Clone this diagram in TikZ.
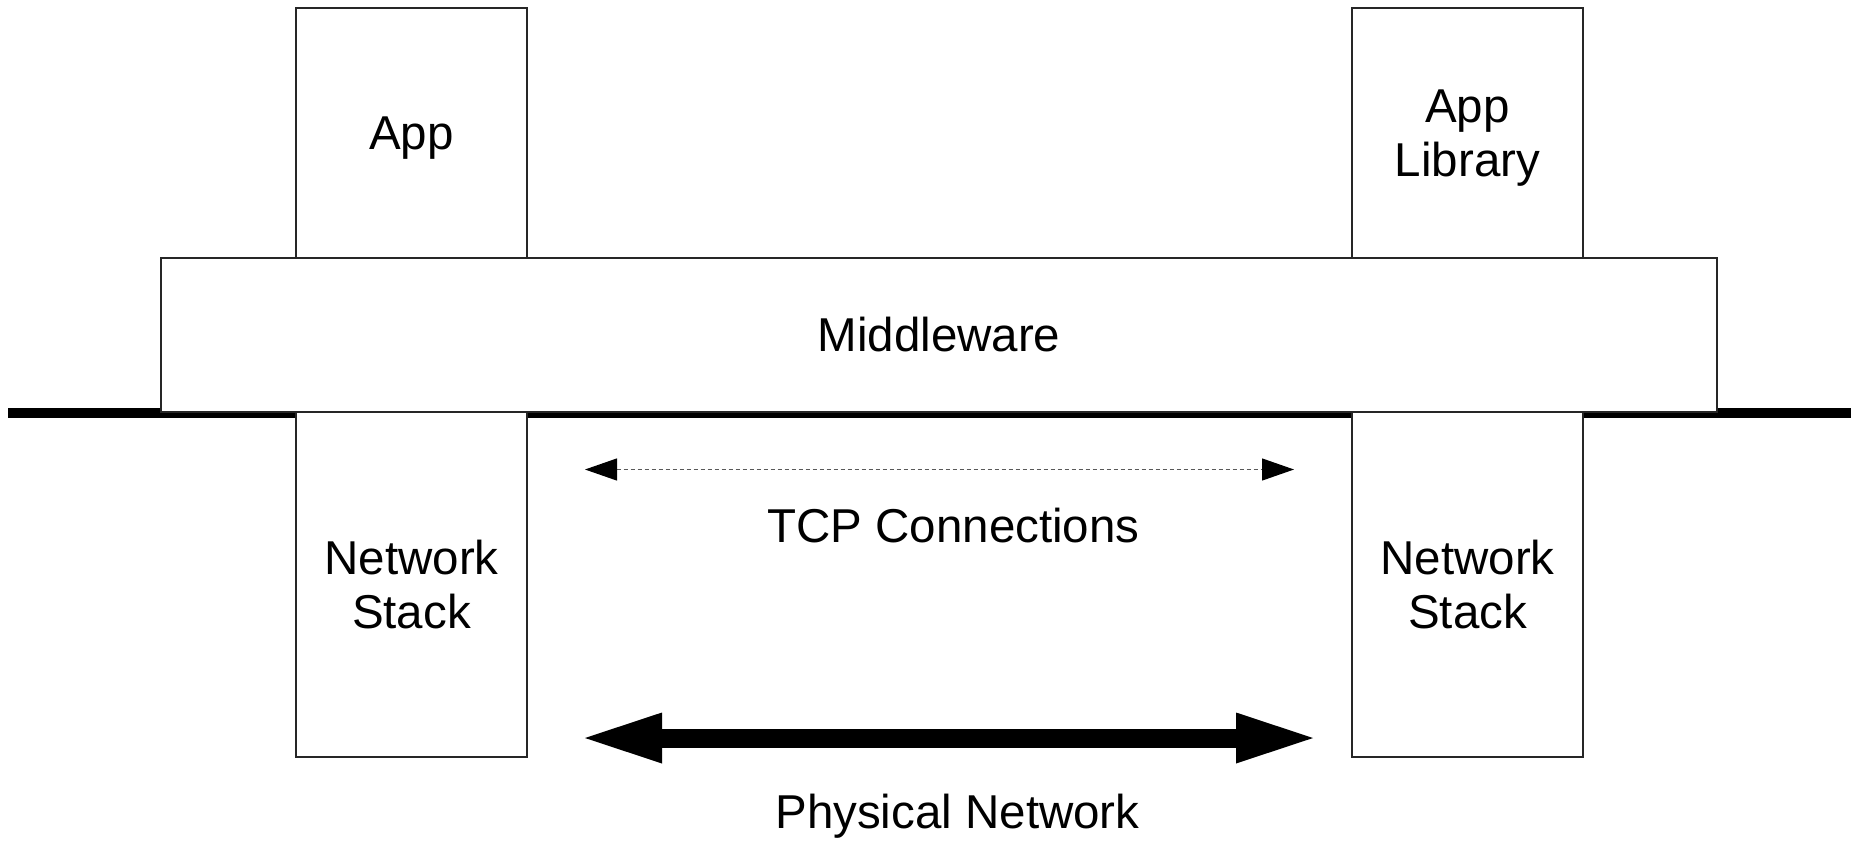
\documentclass[tikz,border=0pt]{standalone}
\usepackage{fontspec}
\setmainfont{Liberation Sans}
\usetikzlibrary{arrows.meta}
\begin{document}
\begin{tikzpicture}[x=1bp,y=-1bp,
  every node/.style={font=\fontsize{47.5bp}{54bp}\selectfont, inner sep=0pt, outer sep=0pt},
  layer/.style={rectangle, draw=black!85, line width=1.3bp, fill=white, align=center},
  column/.style={layer, minimum width=231bp},
  busline/.style={line width=10bp},
  link/.style={draw=black!65, line width=1.2bp, dash pattern=on 4bp off 3bp,
    {Triangle[length=32bp,width=22bp,color=black]}-{Triangle[length=32bp,width=22bp,color=black]}},
  wire/.style={line width=19bp,
    {Triangle[length=77bp,width=51bp,line width=0pt]}-{Triangle[length=77bp,width=51bp,line width=0pt]}},
  caption/.style={anchor=base},
]
\useasboundingbox (0,0) rectangle (1859,842);

% bus line behind the stacks
\coordinate (busL) at (8,413);
\coordinate (busR) at (1851,413);
\draw[busline] (busL) -- (busR);

% upper columns
\node[column, minimum height=250bp, text depth=0pt] (app) at (411.5,133) {App};
\node[column, minimum height=250bp, text depth=0pt] (lib) at (1467.5,133) {App\\Library};

% middleware layer
\node[layer, minimum width=1556bp, minimum height=154bp] (mw) at (939,335) {Middleware};

% lower columns
\node[column, minimum height=345bp] (nsL) at (411.5,584.5) {Network\\Stack};
\node[column, minimum height=345bp] (nsR) at (1467.5,584.5) {Network\\Stack};

% logical connections
\coordinate (tcpL) at (585,469.5);
\coordinate (tcpR) at (1294,469.5);
\draw[link] (tcpL) -- (tcpR);
\node[caption] (tcp) at (953.5,542) {TCP Connections};

% physical link
\coordinate (physL) at (585,738);
\coordinate (physR) at (1313,738);
\draw[wire] (physL) -- (physR);
\node[caption] (phys) at (957.5,828) {Physical Network};
\end{tikzpicture}
\end{document}
